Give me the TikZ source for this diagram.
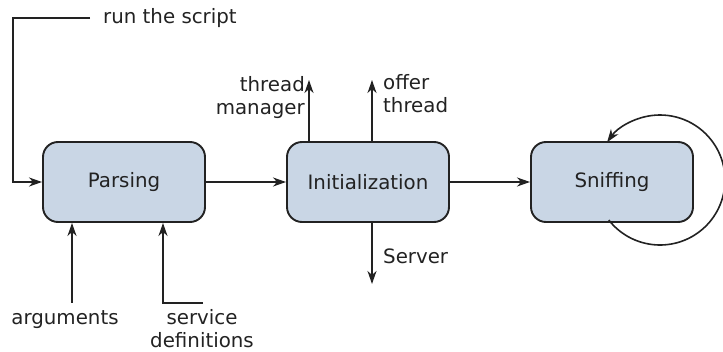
\documentclass[tikz,border=0pt]{standalone}
\usepackage{fontspec}
\setmainfont{DejaVu Sans}
\usetikzlibrary{arrows.meta}
\definecolor{boxfill}{RGB}{201,214,229}
\definecolor{ink}{RGB}{34,34,34}
\begin{document}
\begin{tikzpicture}[x=1pt,y=-1pt,
  font=\fontsize{19.8}{23}\selectfont, text=ink,
  state/.style={draw=ink, line width=1.9pt, fill=boxfill, rounded corners=15pt,
    minimum width=162pt, minimum height=80pt, inner sep=0pt},
  flow/.style={draw=ink, line width=1.6pt, -{Stealth[length=13pt,width=9pt,inset=4pt]}},
  lbl/.style={inner sep=0pt}]
\useasboundingbox (0,0) rectangle (723,352);

% states
\node[state] (parse) at (124,182) {Parsing};
\node[state] (init)  at (368,182) {Initialization};
\node[state] (sniff) at (612,182) {Sniffing};

% labels of the outside inputs and outputs
\node[lbl, anchor=west] (run) at (103,18) {run the script};
\node[lbl, anchor=base] (args) at (65,325) {arguments};
\node[lbl, align=center] (svc) at (202,329) {service\\definitions};
\node[lbl, align=right, anchor=east] (tm) at (305,98) {thread\\manager};
\node[lbl, align=left, anchor=west] (ot) at (383,94) {offer\\thread};
\node[lbl, anchor=west] (srv) at (383,256) {Server};

% free ends of the connectors
\coordinate (runend) at (90,18);
\coordinate (argtail) at (72,303);
\coordinate (svctail) at (203,303);
\coordinate (tmtip) at (309,80);
\coordinate (ottip) at (372,80);
\coordinate (srvtip) at (372,284);
\coordinate (loopc) at (660,180);

% main flow
\draw[flow] (runend) -| (13,182) -- (parse.west);
\draw[flow] (parse.east) -- (init.west);
\draw[flow] (init.east) -- (sniff.west);

% inputs of the parser
\draw[flow] (argtail) -- (argtail |- parse.south);
\draw[flow] (svctail) -| (163,303) -- (163,0 |- parse.south);

% outputs of the initialization
\draw[flow] (tmtip |- init.north) -- (tmtip);
\draw[flow] (ottip |- init.north) -- (ottip);
\draw[flow] (srvtip |- init.south) -- (srvtip);

% self loop of the sniffer
\draw[flow] ([shift={(-142:65pt)}]loopc) arc[start angle=-142, end angle=144.5, radius=65pt];
\end{tikzpicture}
\end{document}
